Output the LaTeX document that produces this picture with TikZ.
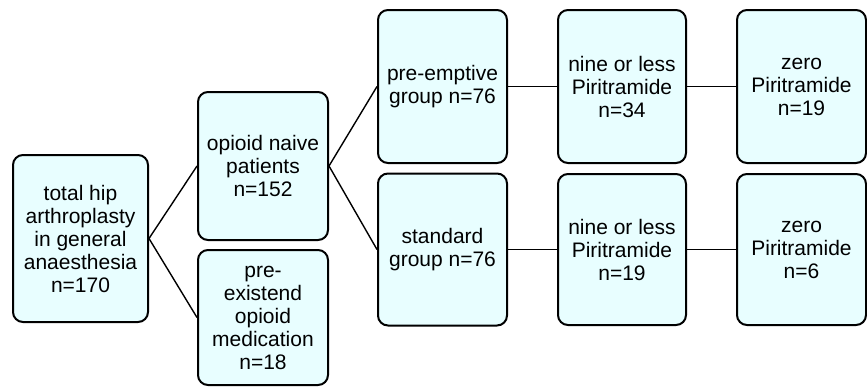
\documentclass[tikz,border=0pt]{standalone}
\usepackage{fontspec}
\setmainfont{Liberation Sans}
\begin{document}
\begin{tikzpicture}[x=1pt,y=1pt,
  box/.style={draw=black, line width=2pt, fill=boxfill, rounded corners=10pt,
    align=center, inner sep=0pt, font=\fontsize{21}{23}\selectfont},
  conn/.style={draw=black, line width=1.4pt}]
\definecolor{boxfill}{HTML}{E8FEFF}
\useasboundingbox (0,0) rectangle (867,-388);
\node[box, minimum width=135pt, minimum height=167pt] (b1) at (80.5,-238.5) {total hip\\arthroplasty\\in general\\anaesthesia\\n=170};
\node[box, minimum width=130pt, minimum height=148pt] (b2) at (263,-166) {opioid naive\\patients\\n=152};
\node[box, minimum width=130pt, minimum height=135pt] (b3) at (263,-317.5) {pre-\\existend\\opioid\\medication\\n=18};
\node[box, minimum width=129pt, minimum height=153pt] (b4) at (442.5,-86.5) {pre-emptive\\group n=76};
\node[box, minimum width=129pt, minimum height=152pt] (b5) at (442.5,-249.5) {standard\\group n=76};
\node[box, minimum width=128pt, minimum height=153pt] (b6) at (622,-86.5) {nine or less\\Piritramide\\n=34};
\node[box, minimum width=128pt, minimum height=151pt] (b7) at (622,-249.5) {nine or less\\Piritramide\\n=19};
\node[box, minimum width=129pt, minimum height=153pt] (b9) at (801.5,-86.5) {zero\\Piritramide\\n=19};
\node[box, minimum width=129pt, minimum height=151pt] (b8) at (801.5,-249.5) {zero\\Piritramide\\n=6};
\draw[conn] (b1.east) -- (b2.west);
\draw[conn] (b1.east) -- (b3.west);
\draw[conn] (b2.east) -- (b4.west);
\draw[conn] (b2.east) -- (b5.west);
\draw[conn] (b4.east) -- (b6.west);
\draw[conn] (b6.east) -- (b9.west);
\draw[conn] (b5.east) -- (b7.west);
\draw[conn] (b7.east) -- (b8.west);
\end{tikzpicture}
\end{document}
